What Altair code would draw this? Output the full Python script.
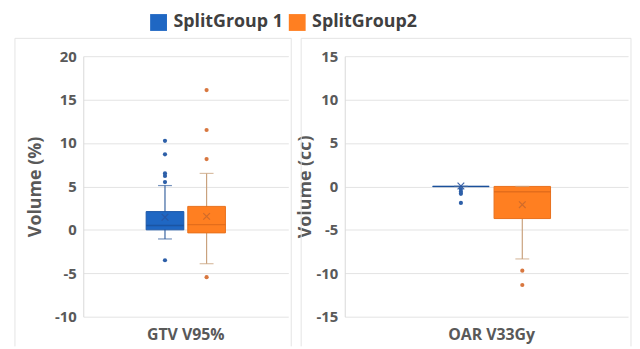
import altair as alt
import pandas as pd

groups = ["SplitGroup 1", "SplitGroup2"]
metrics = ["GTV V95%", "OAR V33Gy"]

# box statistics, order: GTV g1, GTV g2, OAR g1, OAR g2
box_metric = ["GTV V95%", "GTV V95%", "OAR V33Gy", "OAR V33Gy"]
box_group = ["SplitGroup 1", "SplitGroup2", "SplitGroup 1", "SplitGroup2"]
box_q1 = [0.0, -0.35, 0.0, -3.7]
box_q3 = [2.1, 2.7, 0.0, 0.0]
box_median = [0.5, 0.6, 0.0, -0.6]
box_mean = [1.45, 1.55, 0.05, -2.1]
box_low = [-1.05, -3.9, 0.0, -8.35]
box_high = [5.1, 6.5, 0.0, 0.0]

out_metric = ["GTV V95%"] * 10 + ["OAR V33Gy"] * 6
out_group = (["SplitGroup 1"] * 6 + ["SplitGroup2"] * 4
             + ["SplitGroup 1"] * 4 + ["SplitGroup2"] * 2)
out_value = [10.25, 8.7, 6.5, 6.2, 5.5, -3.5,
             16.1, 11.5, 8.15, -5.45,
             -0.3, -0.6, -0.85, -1.9,
             -9.7, -11.35]

boxes = pd.DataFrame({"metric": box_metric, "group": box_group, "q1": box_q1,
                      "q3": box_q3, "median": box_median, "mean": box_mean,
                      "low": box_low, "high": box_high})
outs = pd.DataFrame({"metric": out_metric, "group": out_group, "value": out_value})

FILL = ["#1F67C3", "#FF7F21"]
EDGE = ["#1A56A8", "#E8701C"]
MED = ["#1A4F96", "#D9651A"]
WHISK = ["#3A64A0", "#C9A27E"]
DOT = ["#2D5FA8", "#D8773F"]
MEAN = ["#2A55A0", "#CC6A2C"]
GRAY = "#595959"
FONT = "Open Sans"
FRAME = "#E4E4E4"
H = 263


def panel(metric, ytitle, ydomain, width, pox, align, pi, box_w, tpad, fx0, fx1):
    bdf = boxes[boxes.metric == metric]
    odf = outs[outs.metric == metric]
    x = alt.X("metric:N",
              scale=alt.Scale(paddingInner=0, paddingOuter=pox, align=align),
              axis=alt.Axis(title=None, ticks=False, domain=False, labelAngle=0,
                            labelPadding=10, labelFontSize=16, labelFontWeight="bold",
                            labelColor=GRAY, labelFont=FONT, grid=False))
    xo = alt.XOffset("group:N", scale=alt.Scale(domain=groups, paddingInner=pi,
                                                paddingOuter=0.5))
    yax = alt.Axis(values=list(range(ydomain[0], ydomain[1] + 1, 5)), title=ytitle,
                   labelExpr="datum.value < 0 ? '-' + abs(datum.value) : '' + datum.value",
                   ticks=False, labelPadding=7, labelFontSize=15,
                   labelFontWeight="bold", labelColor=GRAY, labelFont=FONT,
                   titleFontSize=18, titleFontWeight="bold", titleColor=GRAY,
                   titleFont=FONT, titlePadding=tpad, domain=True,
                   domainColor="#D9D9D9", gridColor="#E3E3E3", grid=True)
    ysc = alt.Scale(domain=ydomain, nice=False, zero=False)

    base = alt.Chart(bdf).encode(x=x, xOffset=xo)
    layers = []
    fr = alt.Chart(bdf.head(1))
    layers.append(fr.mark_rule(color=FRAME).encode(
        x=alt.value(fx0), x2=alt.value(fx1), y=alt.value(-18)))
    layers.append(fr.mark_rule(color=FRAME).encode(
        x=alt.value(fx0), y=alt.value(-18), y2=alt.value(H + 30)))
    layers.append(fr.mark_rule(color=FRAME).encode(
        x=alt.value(fx1), y=alt.value(-18), y2=alt.value(H + 30)))
    for i, g in enumerate(groups):
        layers.append(base.transform_filter(alt.datum.group == g).mark_rule(
            color=WHISK[i], strokeWidth=1.2).encode(
            y=alt.Y("low:Q", scale=ysc, axis=yax), y2="high:Q"))
    layers.append(base.mark_bar(strokeWidth=1).encode(
        y=alt.Y("q1:Q", scale=ysc, axis=yax), y2="q3:Q",
        color=alt.Color("group:N", scale=alt.Scale(domain=groups, range=FILL),
                        legend=alt.Legend(title=None)),
        stroke=alt.Stroke("group:N", scale=alt.Scale(domain=groups, range=EDGE),
                          legend=None)))
    for i, g in enumerate(groups):
        f = base.transform_filter(alt.datum.group == g)
        layers.append(f.mark_tick(color=MED[i], size=box_w, thickness=1.5).encode(
            y=alt.Y("median:Q", scale=ysc, axis=yax)))
        layers.append(f.mark_tick(color=WHISK[i], size=14, thickness=1.2).encode(
            y=alt.Y("low:Q", scale=ysc, axis=yax)))
        layers.append(f.mark_tick(color=WHISK[i], size=14, thickness=1.2).encode(
            y=alt.Y("high:Q", scale=ysc, axis=yax)))
        layers.append(f.mark_point(shape="M-1,-1L1,1M-1,1L1,-1", size=45,
                                   strokeWidth=1.2, filled=False, color=MEAN[i],
                                   opacity=0.9).encode(
            y=alt.Y("mean:Q", scale=ysc, axis=yax)))
        layers.append(alt.Chart(odf).transform_filter(alt.datum.group == g)
                      .mark_circle(size=18, color=DOT[i], opacity=1).encode(
            x=x, xOffset=xo, y=alt.Y("value:Q", scale=ysc, axis=yax)))
    return alt.layer(*layers).properties(width=width, height=H)


left = panel("GTV V95%", "Volume (%)", [-10, 20], 207, 0.348, 0.5, 0.095, 38, 10,
             -69, 210)
right = panel("OAR V33Gy", "Volume (cc)", [-15, 15], 286, 0.29, 0.55, 0.08, 57, 2,
              -44, 289)

chart = alt.hconcat(left, right, spacing=4).resolve_scale(
    y="independent", x="independent", xOffset="independent",
    color="shared", stroke="shared"
).configure_legend(
    orient="none", legendX=67, legendY=-43, direction="horizontal",
    symbolType="square", symbolSize=289, symbolStrokeWidth=0,
    labelFontSize=18, labelFontWeight="bold", labelColor="#404040",
    labelFont=FONT, columnPadding=5, labelOffset=6
).configure_view(stroke=None).properties(
    padding={"left": 6, "top": 4, "right": 0, "bottom": 0},
    background="white"
)

chart.save("out.html", embed_options={"renderer": "svg", "actions": False})
